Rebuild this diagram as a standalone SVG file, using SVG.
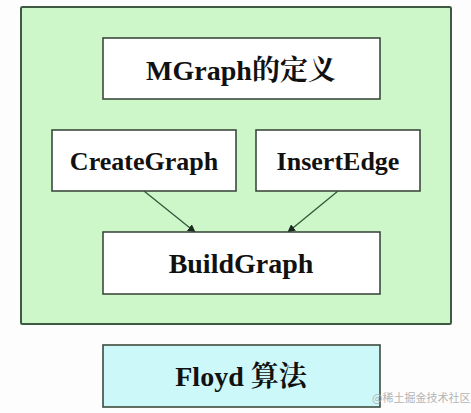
<svg xmlns="http://www.w3.org/2000/svg" width="471" height="413" viewBox="0 0 471 413">
<style>
.box{fill:#ffffff;stroke:#3c4a3e;stroke-width:1.6}
.lbl{font-family:'Liberation Serif','DejaVu Serif','Noto Serif CJK SC','Noto Sans CJK SC',serif;font-weight:700;fill:#111;text-anchor:middle}
.edge{stroke:#2e5a3a;stroke-width:1.3;fill:none;marker-end:url(#ah)}
</style>
<defs>
<marker id="ah" viewBox="0 0 10 10" refX="9" refY="5" markerWidth="8" markerHeight="8" markerUnits="userSpaceOnUse" orient="auto">
<path d="M0,0 L10,5 L0,10 z" fill="#1a2a1e"/>
</marker>
</defs>
<rect width="471" height="413" fill="#fdfdfd"/>
<g id="container">
<rect x="21" y="7" width="430" height="317" rx="1.5" fill="#cdf7c8" stroke="#3f5a42" stroke-width="2"/>
</g>
<g id="connectors">
<line class="edge" x1="144" y1="191" x2="195" y2="232"/>
<line class="edge" x1="338" y1="191" x2="288" y2="232"/>
</g>
<g id="mgraph">
<rect class="box" x="103" y="38" width="277" height="61"/>
<text class="lbl" x="241" y="80" font-size="28">MGraph的定义</text>
</g>
<g id="creategraph">
<rect class="box" x="52" y="130" width="184" height="61"/>
<text class="lbl" x="144" y="170" font-size="26">CreateGraph</text>
</g>
<g id="insertedge">
<rect class="box" x="256" y="130" width="164" height="61"/>
<text class="lbl" x="338" y="170" font-size="26">InsertEdge</text>
</g>
<g id="buildgraph">
<rect class="box" x="103" y="232" width="277" height="62"/>
<text class="lbl" x="241" y="273" font-size="28">BuildGraph</text>
</g>
<g id="floyd">
<rect class="box" x="103" y="345" width="277" height="62" style="fill:#cdf8f9"/>
<text class="lbl" x="241" y="386" font-size="28">Floyd 算法</text>
</g>
<text x="372" y="402" font-family="'Noto Sans CJK SC',sans-serif" font-size="11" fill="#b4b4b4">@稀土掘金技术社区</text>
</svg>
